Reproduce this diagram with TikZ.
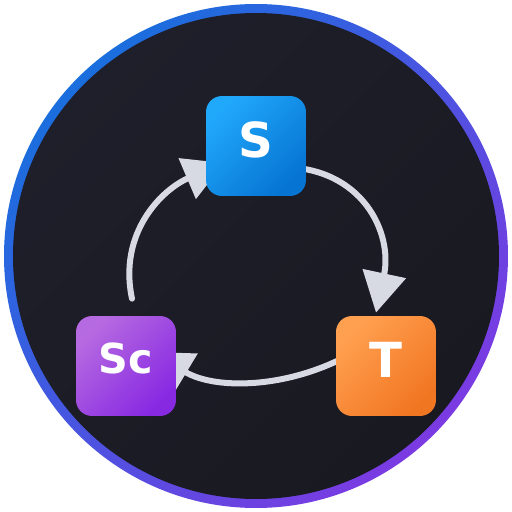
\documentclass[tikz,border=0pt]{standalone}
\usepackage{fontspec}
\setmainfont{DejaVu Sans}
\usetikzlibrary{arrows.meta}
\definecolor{ringblue}{HTML}{1A6EDE}
\definecolor{ringpurple}{HTML}{7B3AE2}
\definecolor{panel}{HTML}{1F1F2B}
\definecolor{paneldark}{HTML}{191921}
\definecolor{sblue}{HTML}{20A8FB}
\definecolor{sbluedark}{HTML}{0674D3}
\definecolor{torange}{HTML}{FFA050}
\definecolor{torangedark}{HTML}{F17622}
\definecolor{scpurple}{HTML}{B66AE1}
\definecolor{scpurpledark}{HTML}{8829E2}
\definecolor{flowgray}{HTML}{D8DAE3}
\pgfdeclarelayer{bg}
\pgfdeclarelayer{links}
\pgfsetlayers{bg,links,main}

\begin{document}
\begin{tikzpicture}[
    x=0.02cm, y=0.02cm,
    tile/.style 2 args={rounded corners=0.32cm, minimum size=2cm, inner sep=0pt, text=white,
        font=\fontsize{27.5}{30}\selectfont\bfseries, text height=0.7cm, text depth=0.24cm,
        top color=#1, bottom color=#2, shading angle=45},
    flow/.style={draw=flowgray, line width=0.12cm, line cap=round, -{Triangle[length=0.8cm, width=0.86cm]}}
]
\useasboundingbox (0,0) rectangle (512,512);
\begin{pgfonlayer}{bg}
\shade[top color=ringblue, bottom color=ringpurple, shading angle=45] (256,256) circle[radius=252];
\shade[top color=panel, bottom color=paneldark, shading angle=45] (256,256) circle[radius=243];
\end{pgfonlayer}

\node[tile={sblue}{sbluedark}] (S) at (256,366) {S};
\node[tile={torange}{torangedark}] (T) at (386,146) {T};
\node[tile={scpurple}{scpurpledark}, font=\fontsize{23.5}{26}\selectfont\bfseries,
    text height=0.58cm, text depth=0.28cm] (Sc) at (126,146) {Sc};

\begin{pgfonlayer}{links}
\draw[flow] ([shift={(25,-21)}]S.center) to[out=0, in=78, looseness=1.2] ([shift={(-10,3)}]T.north);
\draw[flow] ([shift={(-25,18)}]T.center) to[out=212, in=-31, looseness=0.93] ([shift={(26,14)}]Sc.center);
\draw[flow] ([shift={(6,17)}]Sc.north) to[out=102, in=203, looseness=1.05] ([shift={(-32,-17)}]S.center);
\end{pgfonlayer}
\end{tikzpicture}
\end{document}
